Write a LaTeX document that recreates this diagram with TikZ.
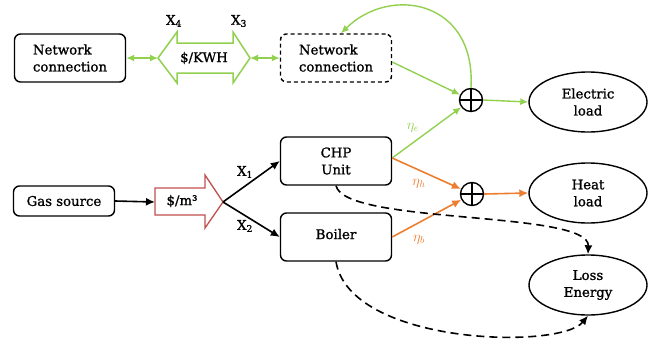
\documentclass[tikz,border=0pt]{standalone}
\usepackage{fontspec}
\setmainfont[FakeBold=1.2]{DejaVu Serif}
\usetikzlibrary{arrows.meta,shapes.geometric}
\definecolor{grn}{RGB}{146,208,80}
\definecolor{orng}{RGB}{237,125,49}
\definecolor{brn}{RGB}{192,80,77}
\begin{document}
\begin{tikzpicture}[x=1pt,y=-1pt,
  font=\fontsize{13.3}{17}\selectfont,
  box/.style={draw, rounded corners=6pt, line width=1.4pt, minimum width=111pt, minimum height=48pt, inner sep=0pt},
  ell/.style={draw, ellipse, line width=1.4pt, minimum width=118pt, minimum height=60pt, inner sep=0pt, align=center},
  plus/.style={draw, circle, line width=1.4pt, minimum size=23pt, inner sep=0pt},
  garr/.style={draw=grn, line width=1.4pt, -{Latex[length=8pt,width=7pt]}},
  gdbl/.style={draw=grn, line width=1.4pt, {Latex[length=8pt,width=7pt]}-{Latex[length=8pt,width=7pt]}},
  oarr/.style={draw=orng, line width=1.6pt, -{Latex[length=9pt,width=8pt]}},
  barr/.style={draw=black, line width=1.6pt, -{Latex[length=9pt,width=8pt]}},
  darr/.style={draw=black, line width=1.6pt, dash pattern=on 8pt off 5pt, -{Latex[length=9pt,width=8pt]}},
  lbl/.style={inner sep=1pt},
  eta/.style={inner sep=0pt, font=\fontsize{14}{14}\selectfont}]
\useasboundingbox (0,0) rectangle (651,338);

% nodes
\node[box, align=left] (nc1) at (70,58) {Network\\connection};
\node[box, align=left, dash pattern=on 4pt off 3pt] (nc2) at (336,58) {Network\\connection};
\node[box, align=center] (chp) at (336,161) {CHP\\Unit};
\node[box, align=center] (boil) at (336,237) {\raisebox{6pt}{Boiler}};
\node[box, minimum width=101pt, minimum height=30pt] (gas) at (64,201) {Gas source};
\node[ell] (el) at (588,102) {Electric\\load};
\node[ell] (hl) at (588,193) {Heat\\load};
\node[ell] (loss) at (588,285) {Loss\\Energy};
\node[plus] (pe) at (471,100) {};
\node[plus] (ph) at (472,194) {};
\draw[line width=1.2pt] (pe.north) -- (pe.south) (pe.west) -- (pe.east);
\draw[line width=1.2pt] (ph.north) -- (ph.south) (ph.west) -- (ph.east);

% double arrow $/KWH
\draw[grn, line width=1.5pt, fill=white]
  (158,58) -- (177,32) -- (177,43) -- (233,43) -- (233,32) -- (250,58)
  -- (233,83) -- (233,73) -- (177,73) -- (177,83) -- cycle;
\node (kwh) at (204,58) {\$/KWH};
\coordinate (kwhL) at (158,58);
\coordinate (kwhR) at (250,58);

% single arrow $/m3
\draw[brn, line width=1.3pt, fill=white]
  (155,188) -- (205,188) -- (205,175) -- (223,202) -- (205,228) -- (205,215)
  -- (155,215) -- cycle;
\node (m3) at (182,201) {\$/m³};
\coordinate (m3L) at (155,202);
\coordinate (m3T) at (223,202);

% labels X
\node[lbl] (x4) at (174,21) {X\textsubscript{4}};
\node[lbl] (x3) at (239,21) {X\textsubscript{3}};
\node[lbl] (x1) at (245,172) {X\textsubscript{1}};
\node[lbl] (x2) at (245,226) {X\textsubscript{2}};

% green connectors
\draw[gdbl] (nc1.east) -- (kwhL);
\draw[gdbl] (kwhR) -- (nc2.west);
\draw[garr] ([yshift=-4pt]nc2.east) -- (pe);
\draw[garr] (pe.north) .. controls (476,0) and (390,-15) .. ([xshift=5pt]nc2.north);
\draw[garr] (pe.east) -- (el.west);
\draw[garr] ([yshift=3pt]chp.east) -- (pe);
\node[eta, text=grn] (ne) at (413,128) {$\eta_e$};

% orange connectors
\draw[oarr] ([yshift=3pt]chp.east) -- (ph);
\draw[oarr] (boil.east) -- (ph);
\draw[oarr] (ph.east) -- (hl.west);
\node[eta, text=orng] (nh) at (419,184) {$\eta_h$};
\node[eta, text=orng] (nb) at (419,240) {$\eta_b$};

% black connectors
\draw[barr] (gas.east) -- (m3L);
\draw[barr] (m3T) -- (chp.west);
\draw[barr] (m3T) -- (boil.west);
\draw[darr] (chp.south) .. controls (345,225) and (590,210) .. (loss.north);
\draw[darr] (boil.south) .. controls (350,345) and (560,350) .. (loss.south);
\end{tikzpicture}
\end{document}
